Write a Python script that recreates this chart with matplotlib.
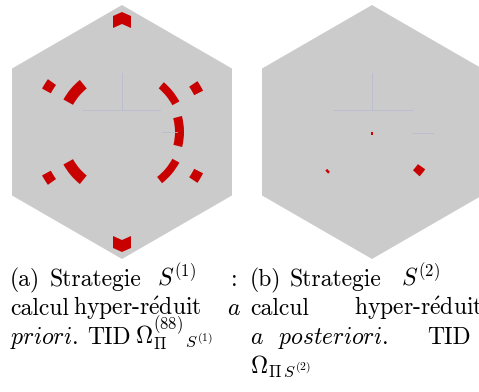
import numpy as np
import matplotlib
matplotlib.use("Agg")
import matplotlib.pyplot as plt
from matplotlib.patches import Polygon, Wedge, Rectangle

plt.rcParams["font.family"] = "cmr10"
plt.rcParams["mathtext.fontset"] = "cm"
plt.rcParams["axes.unicode_minus"] = False

W, H, DPI = 479, 392, 100

# hexagonal cell, units: circumradius = 127
HEX_R = 127.0

# selected elements, case (a): annular sectors (r_in, r_out, theta1, theta2)
sec_a_rin = [56, 57, 53, 56, 57, 81, 81, 81, 81]
sec_a_rout = [67, 65, 62, 67, 65, 91, 91, 91, 91]
sec_a_t1 = [129, 28, -14, 209, -52, 144.5, 27, 208.5, 326]
sec_a_t2 = [151, 50, 15, 231, -28, 151.5, 34, 215.5, 333]
# chevrons near top / bottom vertices
chev_x = [-9, 0, 9, 9, 0, -9]
chev_top_y = [116, 120, 116, 104, 108, 104]
chev_bot_y = [-116, -120, -116, -104, -108, -104]

# case (b)
sec_b_rin = [58, 56]
sec_b_rout = [60.5, 65]
sec_b_t1 = [219.5, -43]
sec_b_t2 = [223.5, -35]
center_cell = (-0.7, -2.5, 1.4, 2.5)

# faint mesh edges
lines_a = [((0, 0), (22, 59)), ((-39, 38), (22, 22)), ((40, 55), (0, 0))]
lines_b = [((0, 0), (22, 59)), ((-39, 40), (22, 22)), ((40, 61), (-1, -1))]

captions = [
    [[("(a)", 10), ("Strategie", 50), (r"$S^{(1)}$", 157), (":", 231)],
     [("calcul", 10), (r"hyper-r$\mathrm{\acute{e}}$duit", 73), (r"$a$", 227)],
     [(r"$priori$.", 10), ("TID", 87), (r"${\Omega_{\Pi}^{(88)}}_{S^{(1)}}$", 135)]],
    [[("(b)", 250), ("Strategie", 290), (r"$S^{(2)}$", 401)],
     [("calcul", 250), (r"hyper-r$\mathrm{\acute{e}}$duit", 354)],
     [(r"$a$", 250), (r"$posteriori$.", 278), ("TID", 427)],
     [(r"${\Omega_{\Pi}}_{S^{(2)}}$", 250)]],
]
baselines = [286, 315, 344, 373]

GRAY = "#cbcbcb"
RED = "#c80000"
EDGE = "#b9b9d2"

fig = plt.figure(figsize=(W / DPI, H / DPI), dpi=DPI)
fig.patch.set_facecolor("white")


def make_ax(cx, cy):
    size = 2 * HEX_R
    ax = fig.add_axes([(cx - HEX_R) / W, (H - cy - HEX_R) / H, size / W, size / H])
    ax.set_xlim(-HEX_R, HEX_R)
    ax.set_ylim(-HEX_R, HEX_R)
    ax.set_aspect("equal")
    ax.axis("off")
    ang = np.deg2rad(90 + 60 * np.arange(6))
    ax.add_patch(Polygon(np.c_[HEX_R * np.cos(ang), HEX_R * np.sin(ang)],
                         closed=True, fc=GRAY, ec="none"))
    return ax


def draw_sectors(ax, rin, rout, t1, t2):
    for a, b, c, d in zip(rin, rout, t1, t2):
        ax.add_patch(Wedge((0, 0), b, c, d, width=b - a, fc=RED, ec="none"))


def draw_lines(ax, segs):
    for xs, ys in segs:
        ax.plot(xs, ys, color=EDGE, lw=0.7, alpha=0.8)


ax1 = make_ax(122, 132)
draw_lines(ax1, lines_a)
draw_sectors(ax1, sec_a_rin, sec_a_rout, sec_a_t1, sec_a_t2)
ax1.add_patch(Polygon(np.c_[chev_x, chev_top_y], fc=RED, ec="none"))
ax1.add_patch(Polygon(np.c_[chev_x, chev_bot_y], fc=RED, ec="none"))

ax2 = make_ax(372, 132)
draw_lines(ax2, lines_b)
draw_sectors(ax2, sec_b_rin, sec_b_rout, sec_b_t1, sec_b_t2)
ax2.add_patch(Rectangle(center_cell[:2], center_cell[2], center_cell[3], fc=RED, ec="none"))

for block in captions:
    for line, y in zip(block, baselines):
        for word, x in line:
            fig.text(x / W, 1 - y / H, word, fontsize=17, ha="left", va="baseline")

fig.savefig("out.png", dpi=DPI)
